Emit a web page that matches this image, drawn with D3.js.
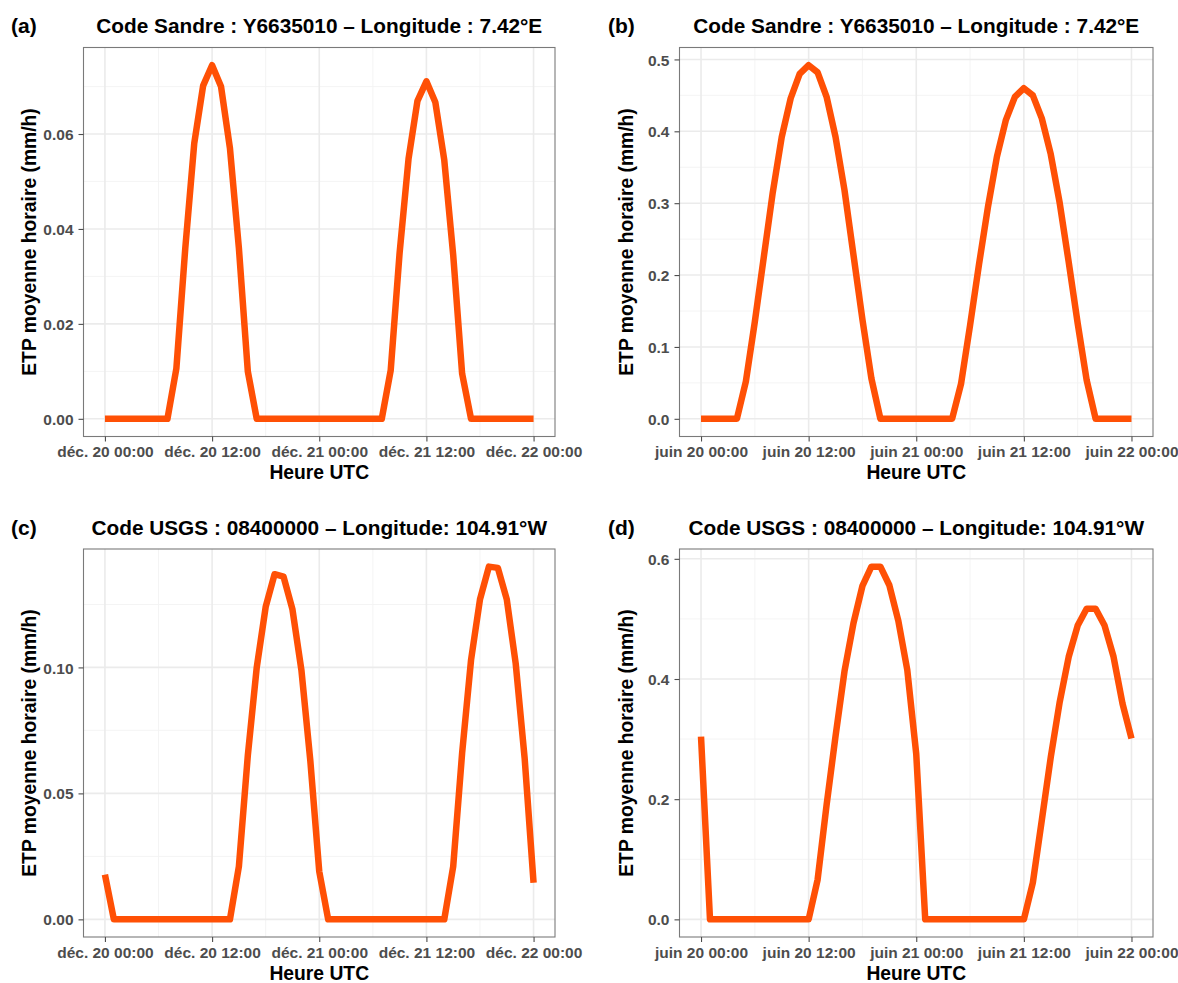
<!DOCTYPE html>
<html>
<head>
<meta charset="utf-8">
<script src="https://cdn.jsdelivr.net/npm/d3@7"></script>
<style>
  html, body { margin: 0; padding: 0; background: #ffffff; }
  svg { display: block; font-family: "Liberation Sans", Arial, Helvetica, sans-serif; }
</style>
</head>
<body>
<svg id="chart" width="1178" height="983"></svg>
<script>
// ---------------- data ----------------
const hours = d3.range(0, 49); // hourly steps from day 20 00:00 UTC

const etpA = [0,0,0,0,0,0,0,0, 0.0106,0.036,0.058,0.0702,0.0745,0.070,0.057,0.036,0.0100,
  0,0,0,0,0,0,0,0,0,0,0,0,0,0,0,
  0.0102,0.035,0.0548,0.067,0.0711,0.0667,0.0545,0.0345,0.0095,
  0,0,0,0,0,0,0,0];

const etpB = [0,0,0,0,0,
  0.052,0.135,0.225,0.315,0.392,0.446,0.480,0.492,0.482,0.448,0.392,0.318,0.228,0.138,0.056,
  0,0,0,0,0,0,0,0,0,
  0.049,0.130,0.215,0.295,0.365,0.416,0.448,0.460,0.450,0.418,0.368,0.300,0.218,0.133,0.054,
  0,0,0,0,0];

const etpC = [0.0178,
  0,0,0,0,0,0,0,0,0,0,0,0,0,0,
  0.021,0.065,0.100,0.124,0.137,0.136,0.123,0.099,0.063,0.019,
  0,0,0,0,0,0,0,0,0,0,0,0,0,0,
  0.021,0.066,0.103,0.127,0.140,0.1395,0.127,0.1015,0.064,0.0145];

const etpD = [0.304,
  0,0,0,0,0,0,0,0,0,0,0,0,
  0.066,0.19,0.305,0.413,0.493,0.555,0.587,0.587,0.556,0.497,0.415,0.275,
  0,0,0,0,0,0,0,0,0,0,0,0,
  0.061,0.165,0.27,0.362,0.437,0.489,0.517,0.517,0.489,0.437,0.359,0.301];

const xTickLabelsDec = ["déc. 20 00:00", "déc. 20 12:00", "déc. 21 00:00", "déc. 21 12:00", "déc. 22 00:00"];
const xTickLabelsJuin = ["juin 20 00:00", "juin 20 12:00", "juin 21 00:00", "juin 21 12:00", "juin 22 00:00"];

const yTicksA = [0, 0.02, 0.04, 0.06];
const yLabelsA = ["0.00", "0.02", "0.04", "0.06"];
const yTicksB = [0, 0.1, 0.2, 0.3, 0.4, 0.5];
const yLabelsB = ["0.0", "0.1", "0.2", "0.3", "0.4", "0.5"];
const yTicksC = [0, 0.05, 0.10];
const yLabelsC = ["0.00", "0.05", "0.10"];
const yTicksD = [0, 0.2, 0.4, 0.6];
const yLabelsD = ["0.0", "0.2", "0.4", "0.6"];

const titleSandre = "Code Sandre : Y6635010 \u2013 Longitude : 7.42°E";
const titleUSGS = "Code USGS : 08400000 \u2013 Longitude: 104.91°W";
const tags = ["(a)", "(b)", "(c)", "(d)"];
const xTitle = "Heure UTC";
const yTitle = "ETP moyenne horaire (mm/h)";

// ---------------- layout ----------------
const startDec = Date.UTC(2020, 11, 20, 0);
const startJuin = Date.UTC(2020, 5, 20, 0);
const H = 3600 * 1000;

const panels = [
  { tag: tags[0], title: titleSandre, values: etpA, start: startDec, xLabels: xTickLabelsDec,
    yTicks: yTicksA, yLabels: yLabelsA, left: 83.5, right: 555, top: 47.5, bottom: 436.5,
    tagX: 11, yTitleX: 36, titleY: 33, tickY: 456.5, xTitleY: 478.5 },
  { tag: tags[1], title: titleSandre, values: etpB, start: startJuin, xLabels: xTickLabelsJuin,
    yTicks: yTicksB, yLabels: yLabelsB, left: 679.5, right: 1153, top: 47.5, bottom: 436.5,
    tagX: 608, yTitleX: 633, titleY: 33, tickY: 456.5, xTitleY: 478.5 },
  { tag: tags[2], title: titleUSGS, values: etpC, start: startDec, xLabels: xTickLabelsDec,
    yTicks: yTicksC, yLabels: yLabelsC, left: 83.5, right: 555, top: 549, bottom: 937,
    tagX: 11, yTitleX: 36, titleY: 535, tickY: 958, xTitleY: 979.5 },
  { tag: tags[3], title: titleUSGS, values: etpD, start: startJuin, xLabels: xTickLabelsJuin,
    yTicks: yTicksD, yLabels: yLabelsD, left: 679.5, right: 1153, top: 549, bottom: 937,
    tagX: 608, yTitleX: 633, titleY: 535, tickY: 958, xTitleY: 979.5 }
];

const svg = d3.select("#chart");
const lineColor = "#FF5005";

panels.forEach(p => {
  const g = svg.append("g");
  const t0 = new Date(p.start);
  const t1 = new Date(p.start + 48 * H);
  const pad = 48 * 0.05 * H;
  const x = d3.scaleUtc()
    .domain([new Date(p.start - pad), new Date(p.start + 48 * H + pad)])
    .range([p.left, p.right]);
  const ext = d3.extent(p.values);
  const ypad = (ext[1] - ext[0]) * 0.05;
  const y = d3.scaleLinear()
    .domain([ext[0] - ypad, ext[1] + ypad])
    .range([p.bottom, p.top]);

  // background
  g.append("rect").attr("x", p.left).attr("y", p.top)
    .attr("width", p.right - p.left).attr("height", p.bottom - p.top)
    .attr("fill", "#ffffff");

  // minor grid
  const majorX = d3.utcHour.every(12).range(t0, new Date(+t1 + 1));
  const minorX = d3.utcHour.every(6).range(new Date(p.start - 6 * H), new Date(+t1 + 6 * H + 1))
    .filter(d => x(d) >= p.left && x(d) <= p.right && !majorX.some(m => +m === +d));
  const step = p.yTicks[1] - p.yTicks[0];
  const minorY = d3.range(p.yTicks.length + 1).map(i => p.yTicks[0] - step / 2 + i * step)
    .filter(v => y(v) >= p.top && y(v) <= p.bottom);

  g.append("g").selectAll("line").data(minorY).join("line")
    .attr("x1", p.left).attr("x2", p.right)
    .attr("y1", d => y(d)).attr("y2", d => y(d))
    .attr("stroke", "#F3F3F3").attr("stroke-width", 0.9);
  g.append("g").selectAll("line").data(minorX).join("line")
    .attr("y1", p.top).attr("y2", p.bottom)
    .attr("x1", d => x(d)).attr("x2", d => x(d))
    .attr("stroke", "#F3F3F3").attr("stroke-width", 0.9);

  // major grid
  g.append("g").selectAll("line").data(p.yTicks).join("line")
    .attr("x1", p.left).attr("x2", p.right)
    .attr("y1", d => y(d)).attr("y2", d => y(d))
    .attr("stroke", "#EBEBEB").attr("stroke-width", 1.6);
  g.append("g").selectAll("line").data(majorX).join("line")
    .attr("y1", p.top).attr("y2", p.bottom)
    .attr("x1", d => x(d)).attr("x2", d => x(d))
    .attr("stroke", "#EBEBEB").attr("stroke-width", 1.6);

  // data line
  const line = d3.line()
    .x((d, i) => x(new Date(p.start + hours[i] * H)))
    .y(d => y(d));
  g.append("path").datum(p.values)
    .attr("d", line)
    .attr("fill", "none")
    .attr("stroke", lineColor)
    .attr("stroke-width", 6.5)
    .attr("stroke-linejoin", "round")
    .attr("stroke-linecap", "butt");

  // panel border
  g.append("rect").attr("x", p.left).attr("y", p.top)
    .attr("width", p.right - p.left).attr("height", p.bottom - p.top)
    .attr("fill", "none").attr("stroke", "#7A7A7A").attr("stroke-width", 1.1);

  // x axis
  const xAxis = d3.axisBottom(x)
    .tickValues(majorX)
    .tickSize(5)
    .tickPadding(0)
    .tickFormat((d, i) => p.xLabels[i]);
  const gx = g.append("g").attr("transform", `translate(0,${p.bottom})`).call(xAxis);
  gx.select(".domain").remove();
  gx.selectAll(".tick line").attr("stroke", "#4D4D4D").attr("stroke-width", 1.1);
  gx.selectAll(".tick text")
    .attr("y", null).attr("dy", null)
    .attr("transform", `translate(0,${p.tickY - p.bottom})`)
    .attr("fill", "#4D4D4D")
    .style("font-size", "15.5px").style("font-weight", "bold")
    .style("font-family", "'Liberation Sans', Arial, sans-serif");

  // y axis
  const yAxis = d3.axisLeft(y)
    .tickValues(p.yTicks)
    .tickSize(5)
    .tickPadding(5)
    .tickFormat((d, i) => p.yLabels[i]);
  const gy = g.append("g").attr("transform", `translate(${p.left},0)`).call(yAxis);
  gy.select(".domain").remove();
  gy.selectAll(".tick line").attr("stroke", "#4D4D4D").attr("stroke-width", 1.1);
  gy.selectAll(".tick text")
    .attr("fill", "#4D4D4D")
    .attr("dy", "0.36em")
    .style("font-size", "15.5px").style("font-weight", "bold")
    .style("font-family", "'Liberation Sans', Arial, sans-serif");

  const cx = (p.left + p.right) / 2;
  const cy = (p.top + p.bottom) / 2;

  // title
  g.append("text").attr("x", cx).attr("y", p.titleY)
    .attr("text-anchor", "middle")
    .style("font-size", "20.8px").style("font-weight", "bold").attr("fill", "#000")
    .text(p.title);

  // tag
  g.append("text").attr("x", p.tagX).attr("y", p.titleY)
    .style("font-size", "21px").style("font-weight", "bold").attr("fill", "#000")
    .text(p.tag);

  // axis titles
  g.append("text").attr("x", cx).attr("y", p.xTitleY)
    .attr("text-anchor", "middle")
    .style("font-size", "19.3px").style("font-weight", "bold").attr("fill", "#000")
    .text(xTitle);
  g.append("text")
    .attr("transform", `translate(${p.yTitleX},${cy}) rotate(-90)`)
    .attr("text-anchor", "middle")
    .style("font-size", "19.3px").style("font-weight", "bold").attr("fill", "#000")
    .text(yTitle);
});
</script>
</body>
</html>
